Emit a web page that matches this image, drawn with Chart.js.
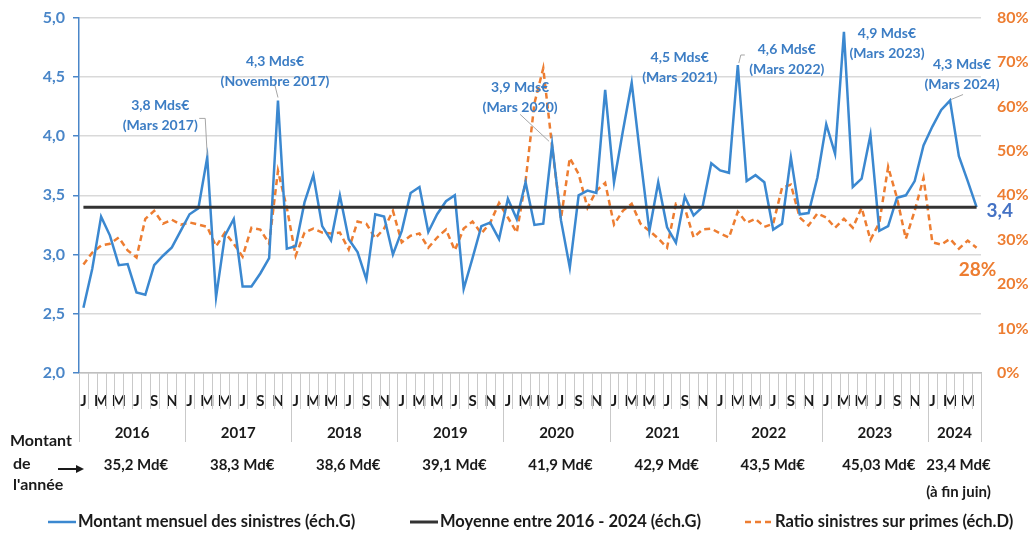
<!DOCTYPE html>
<html lang="fr">
<head>
<meta charset="utf-8">
<script src="https://cdn.jsdelivr.net/npm/chart.js@4.4.1/dist/chart.umd.min.js"></script>
<style>
html,body{margin:0;padding:0;background:#fff;}
#wrap{width:1034px;height:539px;}
</style>
</head>
<body>
<div id="wrap"><canvas id="chart" width="1034" height="539"></canvas></div>
<script>
const monthLetters = ["J","F","M","A","M","J","J","A","S","O","N","D"];
const years = ["2016","2017","2018","2019","2020","2021","2022","2023","2024"];
const monthsPerYear = [12,12,12,12,12,12,12,12,6];
const yearTotals = ["35,2 Md€","38,3 Md€","38,6 Md€","39,1 Md€","41,9 Md€","42,9 Md€","43,5 Md€","45,03 Md€","23,4 Md€"];
const yearNotes = ["","","","","","","","","(à fin juin)"];

// montant mensuel des sinistres, Md€ (éch. G)
const sinistres = [
  2.55, 2.88, 3.32, 3.16, 2.91, 2.92, 2.68, 2.66, 2.91, 2.99, 3.06, 3.20,
  3.34, 3.39, 3.82, 2.64, 3.16, 3.30, 2.73, 2.73, 2.84, 2.97, 4.30, 3.05,
  3.07, 3.44, 3.67, 3.24, 3.12, 3.50, 3.13, 3.02, 2.79, 3.34, 3.32, 3.00,
  3.20, 3.52, 3.57, 3.19, 3.34, 3.45, 3.50, 2.71, 2.97, 3.24, 3.27, 3.13,
  3.47, 3.30, 3.61, 3.25, 3.26, 3.93, 3.29, 2.89, 3.50, 3.54, 3.52, 4.39,
  3.61, 4.04, 4.45, 3.81, 3.20, 3.61, 3.23, 3.10, 3.49, 3.33, 3.40, 3.77,
  3.71, 3.69, 4.60, 3.62, 3.67, 3.61, 3.21, 3.26, 3.82, 3.34, 3.35, 3.65,
  4.10, 3.85, 4.88, 3.57, 3.64, 4.01, 3.20, 3.24, 3.48, 3.50, 3.62, 3.92,
  4.08, 4.22, 4.30, 3.83, 3.62, 3.40
];

// ratio sinistres sur primes, % (éch. D)
const ratio = [
  24.4, 27.1, 28.7, 29.1, 30.5, 27.6, 26.0, 34.7, 36.5, 33.6, 34.5, 33.4,
  33.9, 33.4, 32.9, 28.5, 31.6, 29.1, 26.2, 32.7, 32.3, 29.1, 45.5, 37.2,
  26.4, 31.6, 32.5, 31.6, 31.4, 31.6, 27.8, 34.1, 33.6, 30.3, 32.5, 36.5,
  29.4, 30.9, 31.4, 28.2, 30.5, 32.3, 27.6, 32.5, 34.1, 31.4, 33.8, 38.3,
  35.0, 31.6, 43.2, 60.7, 68.6, 51.0, 34.7, 48.4, 44.8, 37.2, 41.0, 42.8,
  33.4, 36.5, 38.1, 33.6, 32.0, 30.3, 28.2, 38.1, 37.2, 30.5, 32.3, 32.5,
  31.4, 30.5, 36.3, 33.8, 34.7, 32.9, 33.6, 41.7, 42.4, 35.0, 33.2, 35.9,
  35.0, 32.7, 34.7, 32.7, 37.2, 30.0, 33.8, 46.4, 39.4, 30.2, 36.5, 43.9,
  29.4, 28.9, 30.2, 28.0, 29.8, 28.2
];

const moyenneValue = 3.4;
const lastRatioLabel = "28%";

// pics annotés : index du mois + texte
const calloutIdx = [14, 22, 53, 62, 74, 86, 98];
const calloutText = [
  ["3,8 Mds€","(Mars 2017)"],
  ["4,3 Mds€","(Novembre 2017)"],
  ["3,9 Mds€","(Mars 2020)"],
  ["4,5 Mds€","(Mars 2021)"],
  ["4,6 Mds€","(Mars 2022)"],
  ["4,9 Mds€","(Mars 2023)"],
  ["4,3 Mds€","(Mars 2024)"]
];

const labels = [];
years.forEach((yr, j) => {
  for (let m = 0; m < monthsPerYear[j]; m++) labels.push(monthLetters[m] + " " + yr);
});
const moyenne = labels.map(() => moyenneValue);

const BLUE = "#3b88d0";
const AXBLUE = "#4a86c8";
const ORANGE = "#ed7d31";
const FONT = "Lato, 'Open Sans', sans-serif";

/* placement des textes d'annotation autour du point (dx, dy du texte ; leader en relatif) */
const calloutPos = [
  {dx:-47, dy:-52, lead:[[0,-2],[-2,-39],[-8,-39]]},
  {dx:-3,  dy:-39, lead:[[0,-3],[-3,-15]]},
  {dx:-32, dy:-57, lead:[[-3,-3],[-32,-30]]},
  {dx:48,  dy:-25, lead:null},
  {dx:49,  dy:-16, lead:[[1,-2],[3,-10],[7,-10]]},
  {dx:43,  dy:2,   lead:null},
  {dx:12,  dy:-36, lead:[[1,-1],[13,-6]]}
];
const legendStarts = [48, 410, 745];

const extras = {
  id: "extras",
  afterDraw(chart) {
    const {ctx, chartArea, scales} = chart;
    const x = scales.x, y = scales.y, y1 = scales.y1;
    const step = x.getPixelForValue(1) - x.getPixelForValue(0);
    const edge = k => x.getPixelForValue(k) - step / 2;
    const base = chartArea.bottom;
    const starts = [];
    let s = 0;
    monthsPerYear.forEach(n => { starts.push(s); s += n; });

    ctx.save();
    // séparateurs des mois et des années
    ctx.strokeStyle = "#c9c9c9";
    ctx.lineWidth = 1;
    for (let k = 0; k <= labels.length; k++) {
      const isYear = starts.includes(k) || k === labels.length;
      const px = Math.round(edge(k)) + 0.5;
      ctx.beginPath();
      ctx.moveTo(px, base);
      ctx.lineTo(px, base + (isYear ? 69 : 36));
      ctx.stroke();
    }

    // années et montants annuels
    ctx.fillStyle = "#1a1a1a";
    ctx.textAlign = "center";
    ctx.textBaseline = "middle";
    years.forEach((yr, j) => {
      const cx = (edge(starts[j]) + edge(starts[j] + monthsPerYear[j])) / 2;
      ctx.font = "bold 15px " + FONT;
      ctx.fillText(yr, cx, base + 60);
      ctx.fillText(yearTotals[j], cx + 4, base + 92);
      if (yearNotes[j]) ctx.fillText(yearNotes[j], cx + 4, base + 119);
    });

    ctx.textAlign = "left";
    ctx.font = "bold 16px " + FONT;
    ctx.fillText("Montant", 10, base + 68);
    ctx.fillText("de", 13, base + 91);
    ctx.fillText("l'année", 13, base + 112);
    ctx.strokeStyle = "#1a1a1a";
    ctx.lineWidth = 2;
    ctx.beginPath();
    ctx.moveTo(58, base + 96);
    ctx.lineTo(78, base + 96);
    ctx.stroke();
    ctx.beginPath();
    ctx.moveTo(84, base + 96);
    ctx.lineTo(76, base + 92);
    ctx.lineTo(76, base + 100);
    ctx.closePath();
    ctx.fillStyle = "#1a1a1a";
    ctx.fill();

    // annotations des pics
    ctx.font = "bold 14px " + FONT;
    ctx.textAlign = "center";
    calloutIdx.forEach((i, n) => {
      const px = x.getPixelForValue(i);
      const py = y.getPixelForValue(sinistres[i]);
      const p = calloutPos[n];
      if (p.lead) {
        ctx.strokeStyle = "#a6a6a6";
        ctx.lineWidth = 1;
        ctx.beginPath();
        p.lead.forEach((pt, k) => {
          if (k === 0) ctx.moveTo(px + pt[0], py + pt[1]);
          else ctx.lineTo(px + pt[0], py + pt[1]);
        });
        ctx.stroke();
      }
      ctx.fillStyle = "#3c7dc4";
      calloutText[n].forEach((t, k) => ctx.fillText(t, px + p.dx, py + p.dy + k * 20));
    });

    // étiquettes de fin de série
    const last = labels.length - 1;
    ctx.font = "bold 19px " + FONT;
    ctx.fillStyle = "#4472c4";
    ctx.textAlign = "left";
    ctx.fillText(String(moyenneValue).replace(".", ","), x.getPixelForValue(last) + 10, y.getPixelForValue(moyenneValue) + 4);
    ctx.fillStyle = ORANGE;
    ctx.textAlign = "center";
    ctx.fillText(lastRatioLabel, x.getPixelForValue(last) + 1, y1.getPixelForValue(ratio[last]) + 22);

    // légende (reprend couleurs et tirets des séries)
    ctx.font = "bold 16.5px " + FONT;
    ctx.textAlign = "left";
    const ly = 522;
    chart.data.datasets.forEach((ds, n) => {
      const lx = legendStarts[n];
      ctx.strokeStyle = ds.borderColor;
      ctx.lineWidth = ds.borderWidth;
      ctx.setLineDash(ds.borderDash || []);
      ctx.beginPath();
      ctx.moveTo(lx, ly);
      ctx.lineTo(lx + 28, ly);
      ctx.stroke();
      ctx.setLineDash([]);
      ctx.fillStyle = "#1a1a1a";
      ctx.fillText(ds.label, lx + 30, ly);
    });
    ctx.restore();
  }
};

new Chart(document.getElementById("chart"), {
  type: "line",
  data: {
    labels: labels,
    datasets: [
      {
        label: "Montant mensuel des sinistres (éch.G)",
        data: sinistres,
        yAxisID: "y",
        borderColor: BLUE,
        backgroundColor: BLUE,
        borderWidth: 2.5,
        pointRadius: 0,
        tension: 0,
        order: 2
      },
      {
        label: "Moyenne entre 2016 - 2024 (éch.G)",
        data: moyenne,
        yAxisID: "y",
        borderColor: "#333333",
        backgroundColor: "#333333",
        borderWidth: 3,
        pointRadius: 0,
        order: 1
      },
      {
        label: "Ratio sinistres sur primes (éch.D)",
        data: ratio,
        yAxisID: "y1",
        borderColor: ORANGE,
        backgroundColor: ORANGE,
        borderWidth: 2.5,
        borderDash: [6, 4],
        pointRadius: 0,
        tension: 0,
        order: 3
      }
    ]
  },
  options: {
    responsive: false,
    devicePixelRatio: 1,
    animation: false,
    layout: { padding: { top: -12, bottom: 36, left: 0, right: 0 } },
    plugins: {
      tooltip: { enabled: false },
      legend: { display: false }
    },
    scales: {
      x: {
        offset: true,
        grid: { display: false, offset: true },
        border: { display: true, color: "#bfbfbf", width: 1.5 },
        ticks: {
          autoSkip: false,
          maxRotation: 0,
          minRotation: 0,
          padding: 11,
          color: "#1a1a1a",
          font: { family: FONT, size: 15, weight: "bold" },
          callback: (v, i) => (i % 12) % 2 === 0 ? monthLetters[i % 12] : ""
        },
        afterFit: s => { s.height = 130; }
      },
      y: {
        position: "left",
        min: 2,
        max: 5,
        ticks: {
          stepSize: 0.5,
          padding: 8,
          color: AXBLUE,
          font: { family: FONT, size: 16, weight: "bold" },
          callback: v => v.toFixed(1).replace(".", ",")
        },
        grid: { color: "#d9d9d9", lineWidth: 1.5, tickLength: 6, tickColor: AXBLUE },
        border: { display: true, color: AXBLUE, width: 1.5 },
        afterFit: s => { s.width = 79; }
      },
      y1: {
        position: "right",
        min: 0,
        max: 80,
        ticks: {
          stepSize: 10,
          padding: 8,
          color: ORANGE,
          font: { family: FONT, size: 16, weight: "bold" },
          callback: v => v + "%"
        },
        grid: { display: false, drawOnChartArea: false },
        border: { display: false },
        afterFit: s => { s.width = 53; }
      }
    }
  },
  plugins: [extras]
});
</script>
</body>
</html>
